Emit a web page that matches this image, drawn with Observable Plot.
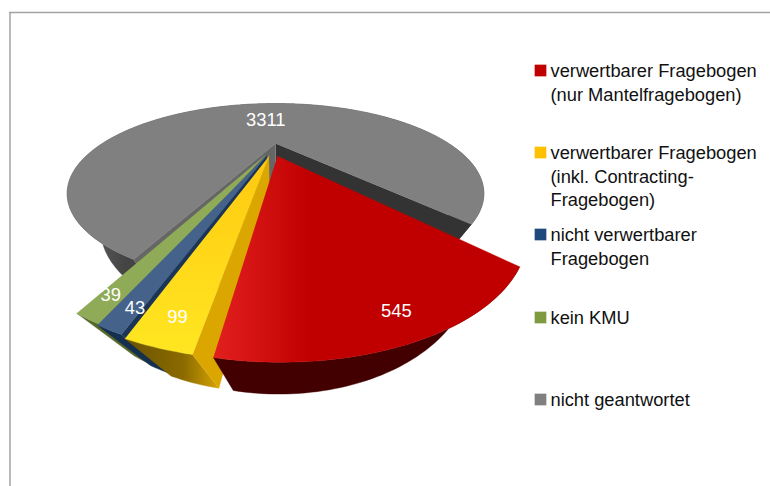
<!DOCTYPE html>
<html>
<head>
<meta charset="utf-8">
<script src="https://cdn.jsdelivr.net/npm/d3@7"></script>
<script src="https://cdn.jsdelivr.net/npm/@observablehq/plot@0.6"></script>
<style>
html,body{margin:0;padding:0;background:#fff;}
svg{display:block;}
</style>
</head>
<body>
<div id="chart"></div>
<script>
// ---- data ----
const categories = [
  "verwertbarer Fragebogen\n(nur Mantelfragebogen)",
  "verwertbarer Fragebogen\n(inkl. Contracting-\nFragebogen)",
  "nicht verwertbarer\nFragebogen",
  "kein KMU",
  "nicht geantwortet"
];
const values = [545, 99, 43, 39, 3311];
const legendColors = ["#C00000", "#FFC000", "#1F497D", "#7F9A3F", "#808080"];

// ---- tilted-disc projection (perspective onto the chart plane) ----
const startAngle = 49, cx = 275, cy = 143, s = 173.2, st = 62.2, k = 0.556;
const vanish = [275, 460], depth = 0.162, grayDepth = 0.135;
const total = d3.sum(values);
const rad = d => d * Math.PI / 180;
const top3d = ([X, Y]) => { const w = 1 - k * Y; return {x: cx + s * X / w, y: cy + st * Y / w}; };
const bot3d = ([X, Y], d = depth) => {
  const w = 1 - k * Y, a = d / (w + d), p = top3d([X, Y]);
  return {x: p.x + (vanish[0] - p.x) * a, y: p.y + (vanish[1] - p.y) * a};
};
let acc = startAngle;
const explode = [[0.010, 0.183], [-0.034, 0.184], [-0.046, 0.175], [-0.053, 0.169], [0, 0]];
const radius = [1.007, 1, 1, 1, 1];
const underlap = [0, 0, 0, 1.2, 0]; // green tucks under its exploded neighbour
const slices = values.map((v, i) => {
  const a0 = acc, a1 = acc + v / total * 360; acc = a1;
  const mid = (a0 + a1) / 2;
  const off = explode[i];
  const at = (a, r = radius[i]) => [off[0] + r * Math.cos(rad(a)), off[1] + r * Math.sin(rad(a))];
  const start = a0 - underlap[i];
  const n = Math.max(2, Math.ceil(a1 - start));
  const arc = d3.range(n + 1).map(j => at(start + (a1 - start) * j / n));
  return {a0, a1, mid, off, at, arc, value: v};
});
const topFace = sl => [sl.off, ...sl.arc].map(p => top3d(p));
const rimWall = (sl, d = depth) => [...sl.arc.map(p => top3d(p)), ...sl.arc.slice().reverse().map(p => bot3d(p, d))];
const cutWall = (sl, a, d = depth) => [top3d(sl.off), top3d(sl.at(a)), bot3d(sl.at(a), d), bot3d(sl.off, d)];
const [red, yellow, blue, green, gray] = slices;

const face = (pts, fill) => Plot.line(pts, {x: "x", y: "y", fill, stroke: fill, strokeWidth: 0.4, curve: "linear"});

const labelRadius = [0.936, 0.93, 0.94, 0.935, 0.47];
const labelAngle = [0, -0.4, -0.9, 0, 0];
const labels = slices.map((sl, i) => ({...top3d(sl.at(sl.mid + labelAngle[i], labelRadius[i])), text: String(sl.value)}));

const legendCenter = [70, 152, 234, 317, 399];
const legend = categories.map((c, i) => ({text: c, y: legendCenter[i], color: legendColors[i]}));

const chart = Plot.plot({
  width: 770, height: 486,
  margin: 0,
  x: {domain: [0, 770], range: [0, 770], axis: null},
  y: {domain: [0, 486], range: [0, 486], axis: null},
  marks: [
    // frame
    Plot.ruleX([9.5], {y1: 12, y2: 486, stroke: "#a3a3a3", strokeWidth: 1.5}),
    Plot.ruleY([12], {x1: 9, x2: 770, stroke: "#a3a3a3", strokeWidth: 1.5}),
    // back slice
    face(rimWall(gray, grayDepth), "url(#grayWall)"),
    face(cutWall(gray, gray.a1), "#333333"),
    face(cutWall(gray, gray.a0, grayDepth), "#666666"),
    face(topFace(gray), "#808080"),
    // small slices
    face(rimWall(green), "#56692b"),
    face(topFace(green), "#8FAB58"),
    face(rimWall(blue), "#152f4f"),
    face(cutWall(blue, blue.a0), "#1b3556"),
    face(topFace(blue), "#44628A"),
    face(rimWall(yellow), "url(#yellowWall)"),
    face(cutWall(yellow, yellow.a0), "#DBA600"),
    face(topFace(yellow), "url(#yellowTop)"),
    // front slice
    face(rimWall(red), "#420000"),
    face(topFace(red), "url(#redTop)"),
    // value labels
    Plot.text(labels, {x: "x", y: "y", text: "text", fill: "#fff", fontSize: 18.4, fontFamily: "Liberation Sans"}),
    // legend
    Plot.dot(legend, {x: 540, y: "y", fill: "color", symbol: "square", r: 6.6, stroke: "none"}),
    Plot.text(legend, {x: 550, y: d => d.y - 9.5, text: "text", textAnchor: "start", lineAnchor: "top", lineHeight: 1.266, fill: "#111", fontSize: 18.3, fontFamily: "Liberation Sans"})
  ]
});

const defs = d3.select(chart).insert("defs", ":first-child");
const grad = (id, x1, y1, x2, y2, stops) => {
  const g = defs.append("linearGradient").attr("id", id).attr("gradientUnits", "userSpaceOnUse")
    .attr("x1", x1).attr("y1", y1).attr("x2", x2).attr("y2", y2);
  stops.forEach(([o, c]) => g.append("stop").attr("offset", o).attr("stop-color", c));
};
grad("redTop", 212, 0, 310, 0, [[0, "#E2201F"], [1, "#C00000"]]);
grad("yellowTop", 0, 150, 0, 350, [[0, "#FFC810"], [1, "#FFE621"]]);
grad("yellowWall", 125, 0, 220, 0, [[0, "#6B5200"], [0.6, "#8A6A00"], [1, "#D9A500"]]);
grad("grayWall", 85, 0, 125, 0, [[0, "#5f5f5f"], [1, "#444444"]]);

document.getElementById("chart").appendChild(chart);
</script>
</body>
</html>
